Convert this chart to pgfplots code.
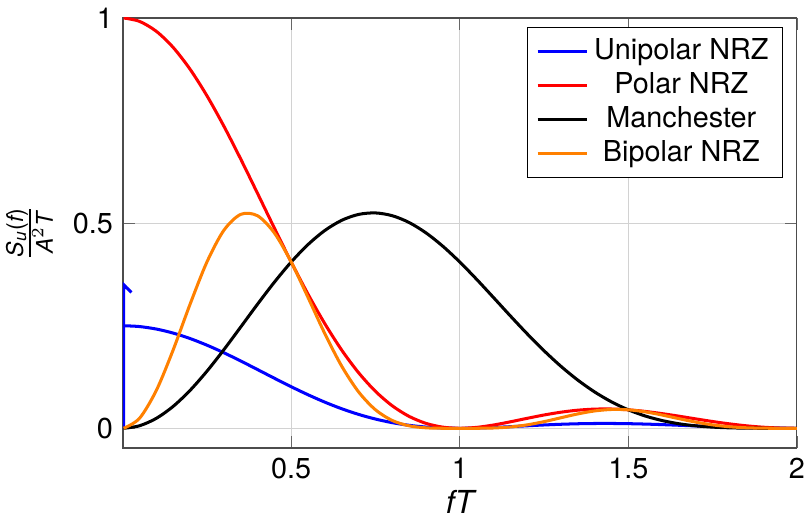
\documentclass[border=0pt]{standalone}
\usepackage{fontspec}
\setmainfont{TeX Gyre Heros}
\usepackage{amsmath}
\usepackage{pgfplots}
\pgfplotsset{compat=1.18}
\newcommand{\vi}[1]{\text{\itshape #1}}
\definecolor{myorange}{RGB}{255,128,0}
\begin{document}
\begin{tikzpicture}
\begin{axis}[
  scale only axis, width=234pt, height=149.3pt,
  xmin=0.001, xmax=2, ymin=-0.048, ymax=1,
  xtick={0.5,1,1.5,2}, ytick={0,0.5,1},
  grid=major, major grid style={gray!35},
  axis line style={black!70},
  tick style={black!60},
  /pgf/number format/assume math mode=true,
  tick label style={font=\fontsize{10}{12}\selectfont},
  xlabel={\vi{fT}}, ylabel={$\frac{\vi{S}_{\vi{u}}\text{(}\vi{f}\text{)}}{\vi{A}^{2}\vi{T}}$},
  xlabel style={font=\fontsize{11}{12}\selectfont, yshift=3pt},
  ylabel style={font=\fontsize{12}{14}\selectfont},
  legend style={at={(0.98,0.98)}, anchor=north east, font=\fontsize{10}{11}\selectfont, draw=black, row sep=-1pt},
  legend cell align=center,
  every axis plot/.append style={line width=1.05pt},
]
\addplot[blue, forget plot] coordinates {(0.003,0) (0.003,0.35) (0.01,0.344) (0.02,0.336) (0.026,0.331)};
\addplot[blue, smooth] coordinates {
(0.003,0.25)(0.05,0.24795)(0.1,0.24189)(0.15,0.23203)(0.2,0.21879)(0.25,0.20264)(0.3,0.18421)(0.35,0.16416)(0.4,0.14320)(0.45,0.12203)(0.5,0.10132)(0.55,0.08169)(0.6,0.06364)(0.65,0.04760)(0.7,0.03384)(0.75,0.02252)(0.8,0.01368)(0.85,0.00723)(0.9,0.00299)(0.95,0.00069)(1,0)(1.05,0.00056)(1.1,0.002)(1.15,0.00395)(1.2,0.00608)(1.25,0.00811)(1.3,0.00981)(1.35,0.01104)(1.4,0.01169)(1.45,0.01175)(1.5,0.01126)(1.55,0.01029)(1.6,0.00895)(1.65,0.00739)(1.7,0.00574)(1.75,0.00414)(1.8,0.0027)(1.85,0.00153)(1.9,0.00067)(1.95,0.00016)(2,0)};
\addlegendentry{Unipolar NRZ}
\addplot[red, smooth] coordinates {
(0.003,1)(0.05,0.99181)(0.1,0.96754)(0.15,0.92813)(0.2,0.87514)(0.25,0.81057)(0.3,0.73684)(0.35,0.65664)(0.4,0.57279)(0.45,0.48811)(0.5,0.40528)(0.55,0.32675)(0.6,0.25457)(0.65,0.19039)(0.7,0.13534)(0.75,0.09006)(0.8,0.05470)(0.85,0.02890)(0.9,0.01194)(0.95,0.00275)(1,0)(1.05,0.00225)(1.1,0.00800)(1.15,0.01579)(1.2,0.02431)(1.25,0.03242)(1.3,0.03924)(1.35,0.04414)(1.4,0.04676)(1.45,0.04701)(1.5,0.04503)(1.55,0.04114)(1.6,0.03580)(1.65,0.02955)(1.7,0.02295)(1.75,0.01654)(1.8,0.01080)(1.85,0.00610)(1.9,0.00268)(1.95,0.00065)(2,0)};
\addlegendentry{Polar NRZ}
\addplot[black, smooth] coordinates {
(0.003,0)(0.05,0.00614)(0.1,0.02427)(0.15,0.05350)(0.2,0.09239)(0.25,0.13907)(0.3,0.19129)(0.35,0.24658)(0.4,0.30235)(0.45,0.35605)(0.5,0.40529)(0.55,0.44794)(0.6,0.48227)(0.65,0.50699)(0.7,0.52130)(0.75,0.52492)(0.8,0.51809)(0.85,0.50147)(0.9,0.47616)(0.95,0.44356)(1,0.40528)(1.05,0.36310)(1.1,0.31875)(1.15,0.27396)(1.2,0.23026)(1.25,0.18897)(1.3,0.15115)(1.35,0.11753)(1.4,0.08858)(1.45,0.06445)(1.5,0.04503)(1.55,0.03001)(1.6,0.01890)(1.65,0.01110)(1.7,0.00596)(1.75,0.00284)(1.8,0.00114)(1.85,0.00035)(1.9,0.00007)(1.95,0.000004)(2,0)};
\addlegendentry{Manchester}
\addplot[myorange, smooth] coordinates {
(0.003,0)(0.05,0.02427)(0.1,0.09239)(0.15,0.19129)(0.2,0.30235)(0.25,0.40528)(0.3,0.48227)(0.35,0.52130)(0.4,0.51809)(0.45,0.47616)(0.5,0.40528)(0.55,0.31875)(0.6,0.23026)(0.65,0.15115)(0.7,0.08858)(0.75,0.04503)(0.8,0.01890)(0.85,0.00596)(0.9,0.00114)(0.95,0.00007)(1,0)(1.05,0.00006)(1.1,0.00076)(1.15,0.00325)(1.2,0.00840)(1.25,0.01621)(1.3,0.02568)(1.35,0.03504)(1.4,0.04229)(1.45,0.04586)(1.5,0.04503)(1.55,0.04013)(1.6,0.03238)(1.65,0.02346)(1.7,0.01502)(1.75,0.00827)(1.8,0.00373)(1.85,0.00126)(1.9,0.00026)(1.95,0.00002)(2,0)};
\addlegendentry{Bipolar NRZ}
\end{axis}
\pgfresetboundingbox
\path[use as bounding box] (-42.7pt,-26.5pt) rectangle (238.2pt,155.55pt);
\end{tikzpicture}
\end{document}
